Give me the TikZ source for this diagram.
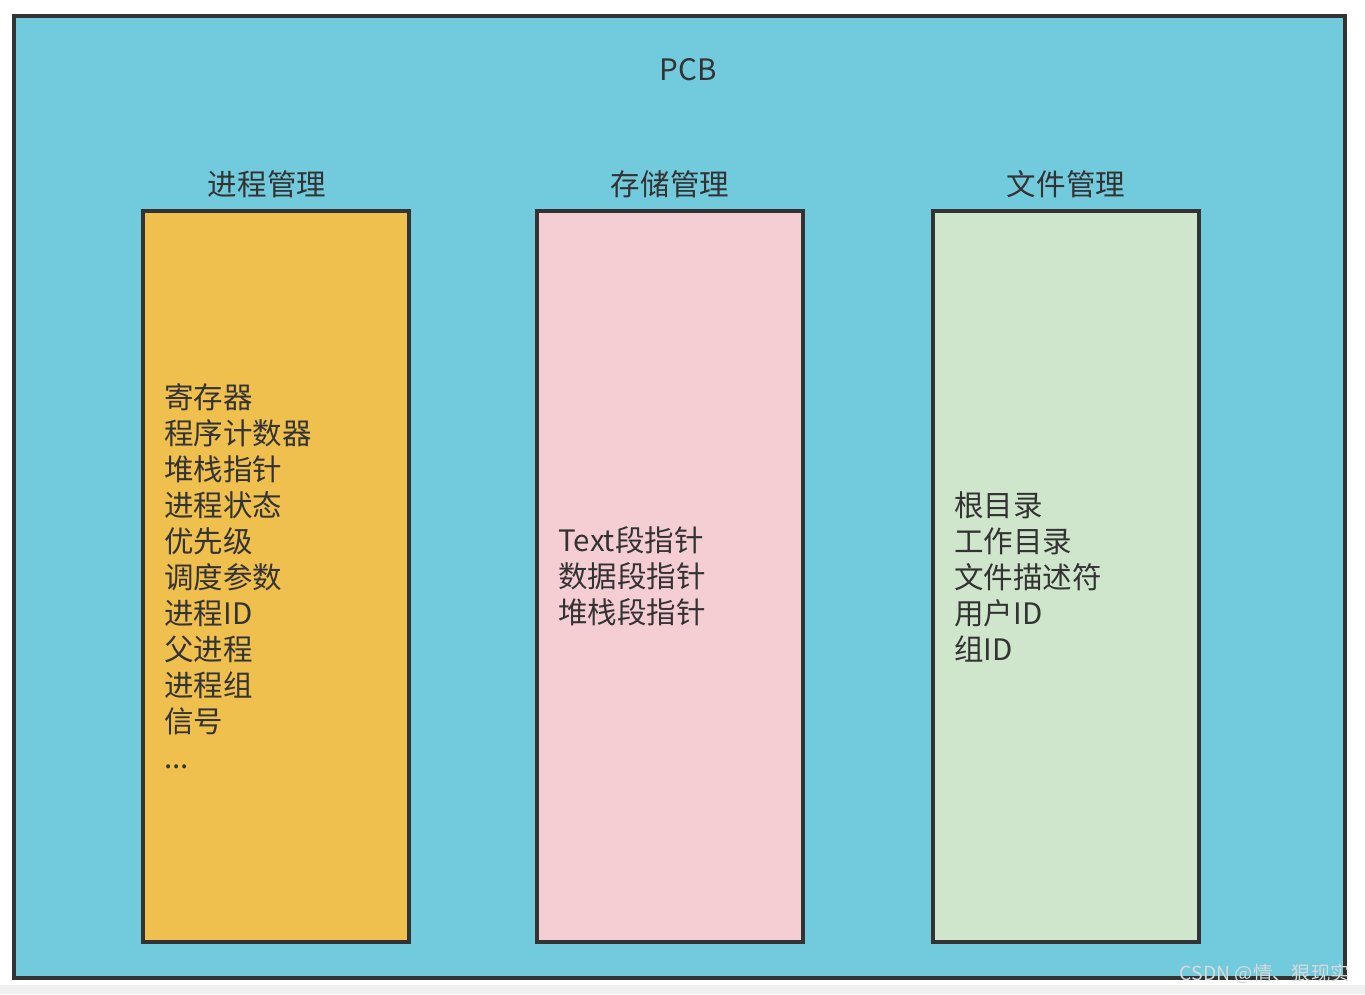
\documentclass[tikz,border=0pt]{standalone}
\usepackage{fontspec}
\setmainfont{Noto Sans CJK SC}
\usetikzlibrary{positioning}
\definecolor{pcbblue}{HTML}{72CBDD}
\definecolor{procorange}{HTML}{F0C04E}
\definecolor{mempink}{HTML}{F5CED3}
\definecolor{filegreen}{HTML}{CFE5CC}
\definecolor{edgegray}{HTML}{333333}
\tikzset{
  partbox/.style={draw=edgegray, line width=0.08cm, minimum width=5.32cm, minimum height=14.62cm, inner sep=0pt},
  parttitle/.style={text=edgegray, font=\fontsize{16.8}{20}\selectfont, inner sep=0pt},
  partlist/.style={text=edgegray, font=\fontsize{16.8}{20.5}\selectfont, align=left, anchor=west, inner sep=0pt}
}
\begin{document}
\begin{tikzpicture}[x=0.02cm, y=-0.02cm]
  % page and bottom strip
  \useasboundingbox (0,0) rectangle (1365,994);
  \fill[white] (0,0) rectangle (1365,994);
  \fill[black!6] (0,985) rectangle (1365,994);

  % PCB frame
  \node[draw=edgegray, fill=pcbblue, line width=0.08cm, minimum width=26.62cm, minimum height=19.24cm, inner sep=0pt] (pcb) at (679.5,497) {};
  \node[parttitle] (pcbtitle) at (688,70) {PCB};

  % three parts
  \node[partbox, fill=procorange] (proc) at (276,576.5) {};
  \node[partbox, fill=mempink] (mem) at (670,576.5) {};
  \node[partbox, fill=filegreen] (file) at (1066,576.5) {};

  \node[parttitle, above=0.22cm of proc, xshift=-0.18cm] (proctitle) {进程管理};
  \node[parttitle, above=0.22cm of mem] (memtitle) {存储管理};
  \node[parttitle, above=0.22cm of file] (filetitle) {文件管理};

  % contents
  \node[partlist] (proclist) at ([xshift=0.46cm]proc.west)
    {寄存器\\程序计数器\\堆栈指针\\进程状态\\优先级\\调度参数\\进程ID\\父进程\\进程组\\信号\\...};
  \node[partlist] (memlist) at ([xshift=0.46cm]mem.west)
    {Text段指针\\数据段指针\\堆栈段指针};
  \node[partlist] (filelist) at ([xshift=0.46cm]file.west)
    {根目录\\工作目录\\文件描述符\\用户ID\\组ID};

  % watermark
  \node[text=white!85!black, font=\fontsize{11}{13}\selectfont, anchor=east, inner sep=0pt] (mark) at (1350,974) {CSDN @情、狠现实};
\end{tikzpicture}
\end{document}
